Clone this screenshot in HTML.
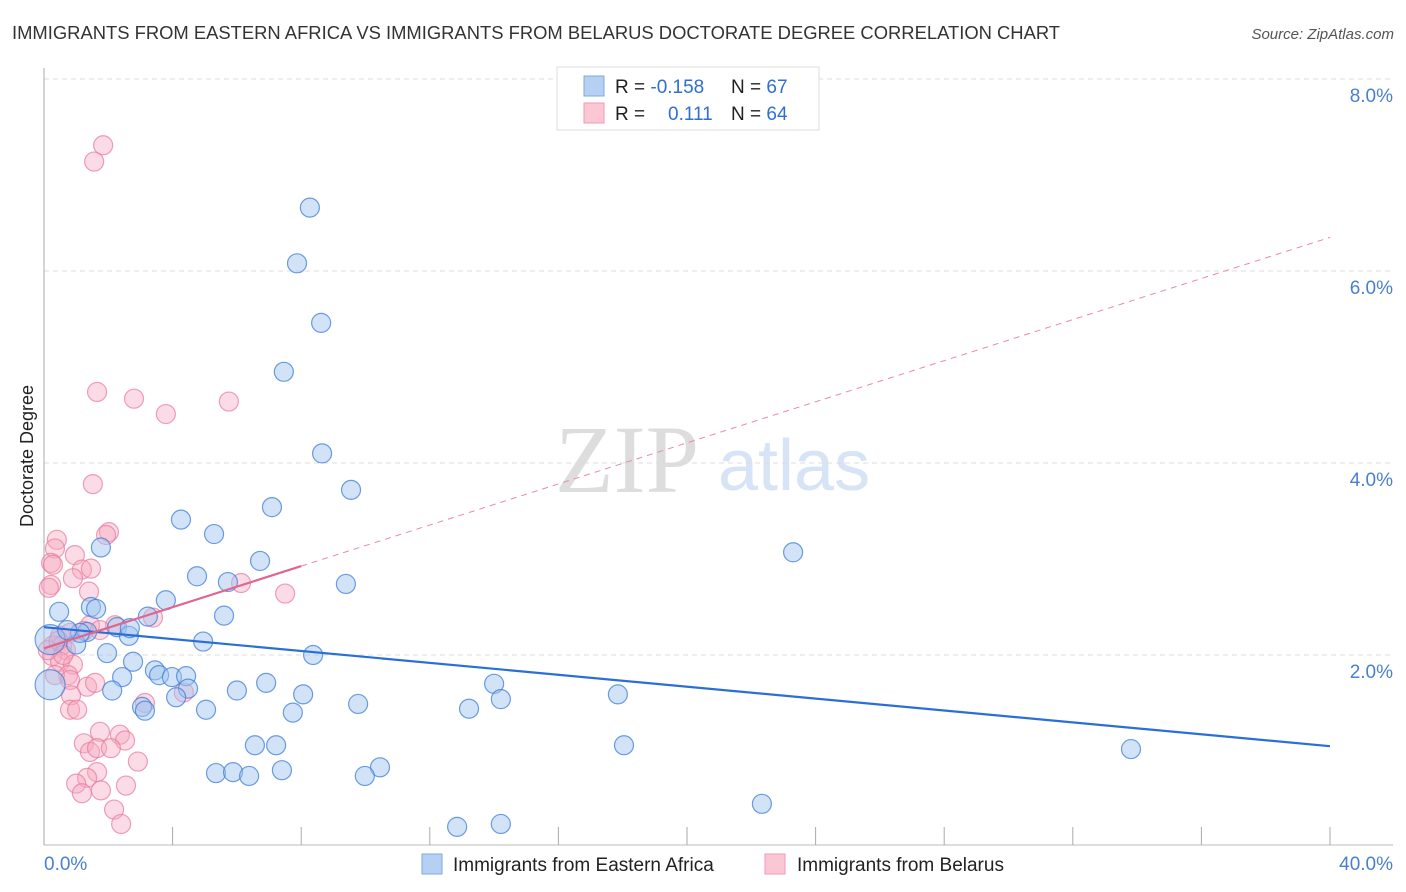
<!DOCTYPE html>
<html><head><meta charset="utf-8"><style>
body{margin:0;background:#fff;width:1406px;height:892px;overflow:hidden;font-family:"Liberation Sans",sans-serif}
svg{display:block}
</style></head><body>
<svg id="chart" width="1406" height="892">
<text x="12" y="39" font-size="18.4" fill="#333">IMMIGRANTS FROM EASTERN AFRICA VS IMMIGRANTS FROM BELARUS DOCTORATE DEGREE CORRELATION CHART</text>
<text x="1394" y="39" font-size="15" fill="#555" font-style="italic" text-anchor="end">Source: ZipAtlas.com</text>
<text transform="translate(33,456) rotate(-90)" font-size="18" fill="#222" text-anchor="middle">Doctorate Degree</text>
<g>
<text x="555" y="492" font-family="Liberation Serif,serif" font-size="96" fill="#ddd">ZIP</text>
<text x="718" y="490" font-size="72" fill="#d6e4f5">atlas</text>
</g>
<g id="grid"></g><g id="axes"></g><g id="marks"></g><g id="lines"></g>
<g>
<rect x="557" y="67" width="262" height="63" fill="#fff" stroke="#ddd"/>
<rect x="584" y="76" width="20" height="20" fill="#b6d0f3" stroke="#7ea8e0"/>
<rect x="584" y="103" width="20" height="20" fill="#fbc7d5" stroke="#f09ab5"/>
<text x="615" y="93" font-size="19" fill="#222">R = <tspan fill="#2f6fd0">-0.158</tspan></text>
<text x="731" y="93" font-size="19" fill="#222">N = <tspan fill="#2f6fd0">67</tspan></text>
<text x="615" y="120" font-size="19" fill="#222">R = <tspan x="668" fill="#2f6fd0">0.111</tspan></text>
<text x="731" y="120" font-size="19" fill="#222">N = <tspan fill="#2f6fd0">64</tspan></text>
</g>
<g>
<rect x="422" y="854" width="20" height="20" fill="#b6d0f3" stroke="#7ea8e0"/>
<text x="453" y="871" font-size="19" fill="#222">Immigrants from Eastern Africa</text>
<rect x="765" y="854" width="20" height="20" fill="#fbc7d5" stroke="#f09ab5"/>
<text x="797" y="871" font-size="19" fill="#222">Immigrants from Belarus</text>
</g>
</svg>
<script>
const blueX=[8.27,7.87,8.62,7.46,8.65,9.55,4.26,7.09,5.29,1.77,23.30,6.72,4.76,5.72,9.39,3.79,1.46,1.62,5.60,3.23,0.47,2.27,2.64,1.34,1.00,4.95,8.37,1.96,2.77,3.45,3.58,3.98,4.42,2.43,4.48,2.12,6.00,6.91,8.06,14.00,14.21,17.85,4.11,3.05,3.14,5.04,7.74,9.77,13.22,6.56,7.22,18.04,33.81,5.35,5.88,6.38,7.40,10.45,9.98,22.33,12.85,14.21,0.19,0.19,1.12,0.72,2.67];
const blueY=[6.66,6.08,5.46,4.95,4.10,3.72,3.41,3.54,3.26,3.12,3.07,2.98,2.82,2.76,2.74,2.57,2.50,2.48,2.41,2.40,2.45,2.29,2.20,2.24,2.11,2.14,2.00,2.02,1.93,1.84,1.79,1.77,1.78,1.77,1.65,1.63,1.63,1.71,1.59,1.70,1.54,1.59,1.56,1.46,1.42,1.43,1.40,1.49,1.44,1.06,1.06,1.06,1.02,0.77,0.78,0.74,0.80,0.83,0.74,0.45,0.21,0.24,1.69,2.16,2.23,2.26,2.28];
const pinkX=[1.84,1.56,1.65,2.80,3.79,5.75,1.52,2.02,1.93,0.40,0.34,0.96,0.22,0.28,1.18,1.46,0.22,0.90,1.40,6.13,7.50,3.39,1.43,2.21,0.50,0.81,1.24,1.74,0.28,0.56,0.68,0.25,0.50,0.90,0.75,0.34,0.81,1.34,1.59,0.84,3.14,4.35,0.81,1.03,1.24,1.74,2.36,2.52,1.43,1.65,2.08,1.65,1.34,1.00,2.92,1.77,2.55,1.18,2.18,2.40,0.12,0.15,0.45,0.60];
const pinkY=[7.31,7.14,4.74,4.67,4.51,4.64,3.78,3.28,3.25,3.20,3.11,3.04,2.96,2.94,2.89,2.90,2.73,2.80,2.66,2.75,2.64,2.39,2.31,2.31,2.20,2.23,2.25,2.26,2.10,2.10,2.05,1.99,1.93,1.90,1.79,1.79,1.74,1.67,1.71,1.58,1.50,1.61,1.43,1.43,1.08,1.20,1.17,1.11,0.99,1.03,1.03,0.78,0.72,0.66,0.89,0.59,0.64,0.56,0.39,0.24,2.05,2.70,2.15,2.00];
const yTicks=[2,4,6,8];
const yTickLabels=["2.0%","4.0%","6.0%","8.0%"];
const xTickVals=[0,4,8,12,16,20,24,28,32,36,40];
const blueTrend=[2.29,1.05];   // value at x=0, x=40
const pinkTrend=[2.07,6.35];   // value at x=0, x=40
const pinkSolidEnd=8;
const NS="http://www.w3.org/2000/svg";
const X=v=>44+v*32.15, Y=v=>847-v*96;
function mk(tag,attrs,parent){const e=document.createElementNS(NS,tag);for(const k in attrs)e.setAttribute(k,attrs[k]);document.getElementById(parent).appendChild(e);return e;}
yTicks.forEach((t,i)=>{
 const g=mk('line',{x1:44,x2:1393,y1:Y(t),y2:Y(t),stroke:'#ddd','stroke-dasharray':'5,4'},'grid');
 
 
 const tx=mk('text',{x:1393,y:Y(t)+23,'font-size':19,fill:'#4a7fd0','text-anchor':'end'},'grid');
 tx.textContent=yTickLabels[i];
 
 
});
let a=mk('line',{x1:44,x2:44,y1:68,y2:845,stroke:'#aaa'},'axes');


a=mk('line',{x1:44,x2:1393,y1:845,y2:845,stroke:'#bbb'},'axes');


xTickVals.forEach(v=>{
 const l=mk('line',{x1:X(v),x2:X(v),y1:827,y2:845,stroke:'#aaa'},'axes');
 
 
});
let t=mk('text',{x:44,y:870,'font-size':19,fill:'#4a7fd0'},'axes');t.textContent='0.0%';


t=mk('text',{x:1393,y:870,'font-size':19,fill:'#4a7fd0','text-anchor':'end'},'axes');t.textContent='40.0%';


pinkX.forEach((x,i)=>{
 const c=mk('circle',{cx:X(x),cy:Y(pinkY[i]),r:9.5,fill:'rgba(246,170,194,0.42)',stroke:'rgba(232,120,155,0.7)','stroke-width':1.2},'marks');
 
 
});
blueX.forEach((x,i)=>{
 const big=i>=62&&i<64;
 const c=mk('circle',{cx:X(x),cy:Y(blueY[i]),r:big?15:9.5,fill:'rgba(160,196,240,0.48)',stroke:'rgba(60,125,215,0.75)','stroke-width':1.2},'marks');
 
 
});
let l=mk('line',{x1:X(0),y1:Y(blueTrend[0]),x2:X(40),y2:Y(blueTrend[1]),stroke:'#2a6fd6','stroke-width':2.2},'lines');


const pv=x=>pinkTrend[0]+(pinkTrend[1]-pinkTrend[0])*x/40;
l=mk('line',{x1:X(0),y1:Y(pv(0)),x2:X(pinkSolidEnd),y2:Y(pv(pinkSolidEnd)),stroke:'#e0668f','stroke-width':2.2},'lines');


l=mk('line',{x1:X(pinkSolidEnd),y1:Y(pv(pinkSolidEnd)),x2:X(40),y2:Y(pv(40)),stroke:'#e88aa8','stroke-width':1,'stroke-dasharray':'6,5'},'lines');


</script>
</body></html>
